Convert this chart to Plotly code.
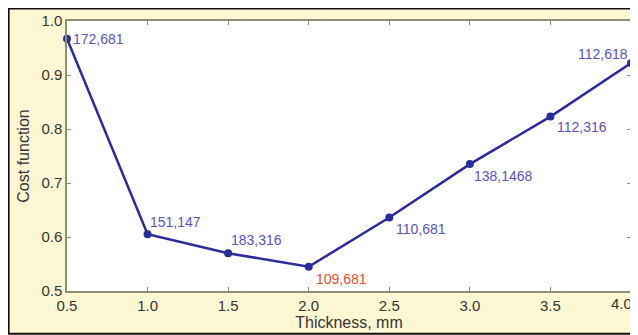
import plotly.graph_objects as go

thickness = [0.5, 1.0, 1.5, 2.0, 2.5, 3.0, 3.5, 4.0]
cost = [0.967, 0.605, 0.570, 0.545, 0.636, 0.735, 0.823, 0.922]
point_labels = ["172,681", "151,147", "183,316", "109,681", "110,681", "138,1468", "112,316", "112,618"]
x_ticks = [0.5, 1.0, 1.5, 2.0, 2.5, 3.0, 3.5, 4.0]
y_ticks = [0.5, 0.6, 0.7, 0.8, 0.9, 1.0]

# label placement styles (anchor, shifts) per point
label_style = [
    ("left", "middle", 4, 0),
    ("left", "bottom", 0, 2),
    ("left", "bottom", 1, 3),
    ("left", "top", 5, -2),
    ("left", "top", 5, -1),
    ("left", "top", 2, -2),
    ("left", "top", 5, 0),
    ("right", "bottom", -1, -1),
]
label_colors = ["#5b52c2"] * 3 + ["#e8502e"] + ["#5b52c2"] * 4
FONT = "Liberation Sans"
TICK_FONT = dict(size=15, color="#353535", family=FONT)
TITLE_FONT = dict(size=16, color="#353535", family=FONT)

fig = go.Figure()
fig.add_trace(go.Scatter(
    x=thickness, y=cost, mode="lines+markers",
    line=dict(color="#2b2b9b", width=2.5),
    marker=dict(color="#2b2b9b", size=8),
    cliponaxis=False, showlegend=False,
))

for xv, yv, txt, st, col in zip(thickness, cost, point_labels, label_style, label_colors):
    fig.add_annotation(x=xv, y=yv, text=txt, showarrow=False,
                       xanchor=st[0], yanchor=st[1], xshift=st[2], yshift=st[3],
                       font=dict(size=14, color=col, family=FONT))

# the last x tick label is drawn right-aligned so it stays inside the frame
x_ticktext = [f"{v:.1f}" for v in x_ticks]
last_label = x_ticktext[-1]
x_ticktext[-1] = ""
fig.add_annotation(x=x_ticks[-1], y=0, xref="x", yref="paper", text=last_label,
                   showarrow=False, xanchor="right", yanchor="top", xshift=3, yshift=-2,
                   font=TICK_FONT)

axis_common = dict(
    showgrid=False, zeroline=False, showline=True, linecolor="#8e8e72", linewidth=1.5,
    mirror="ticks", ticks="inside", ticklen=4, tickcolor="#8e8e72",
    tickfont=TICK_FONT, automargin=False,
)
fig.update_xaxes(range=[0.5, 4.0], tickvals=x_ticks, ticktext=x_ticktext,
                 title=dict(text="Thickness, mm", standoff=1, font=TITLE_FONT),
                 **axis_common)
fig.update_yaxes(range=[0.5, 1.0], tickvals=y_ticks, ticktext=[f"{v:.1f}" for v in y_ticks],
                 title=dict(text="Cost function", standoff=8, font=TITLE_FONT),
                 **axis_common)

# figure is placed at an 8px body offset in the page
fig.update_layout(
    width=630, height=327,
    margin=dict(l=59, r=7, t=13, b=44),
    paper_bgcolor="#fdf7d3", plot_bgcolor="white",
    shapes=[
        dict(type="rect", xref="paper", yref="paper", x0=-0.1035, x1=1.05, y0=-0.158, y1=1.046,
             fillcolor="rgba(0,0,0,0)", line=dict(color="#111111", width=2), layer="below"),
    ],
)

fig.write_html("out.html")
